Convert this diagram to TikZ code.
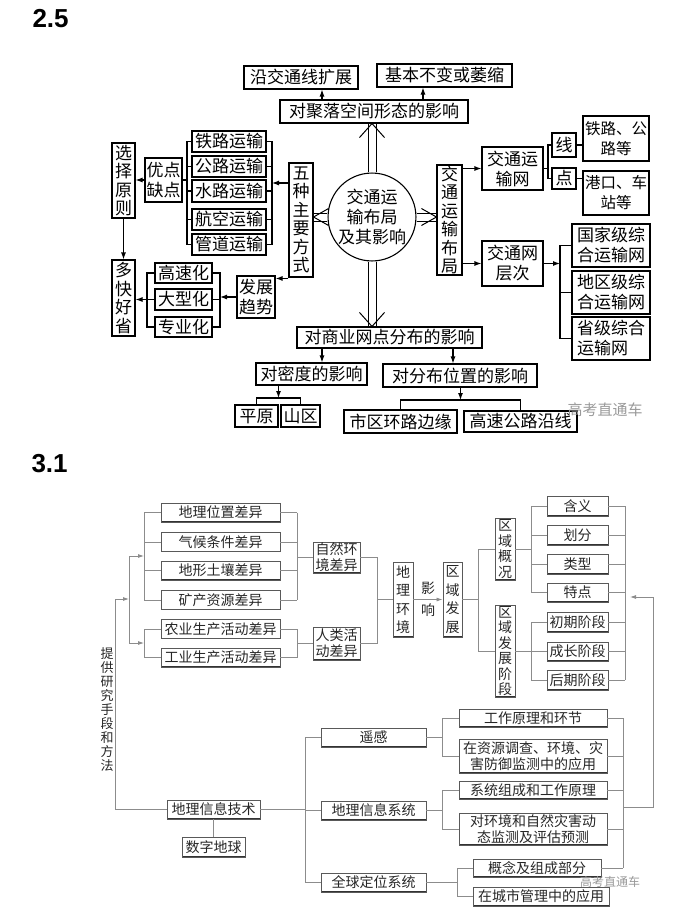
\documentclass[tikz,border=0pt]{standalone}
\usepackage{fontspec}
\setmainfont{Noto Sans CJK SC}
\newfontfamily\numfont{Liberation Sans}
\usetikzlibrary{arrows.meta}

\begin{document}
\begin{tikzpicture}[x=1pt,y=-1pt,
    sz/.style 2 args={minimum width=#1pt, minimum height=#2pt},
    box/.style={draw, line width=1.1pt, inner sep=0pt, align=center, font=\fontsize{17}{20}\selectfont},
    vbox/.style={box, font=\fontsize{17}{18.5}\selectfont},
    ln/.style={line width=1.1pt, line cap=rect},
    arr/.style={line width=1.1pt, -{Latex[length=7pt,width=5pt]}},
    dbl/.style={double, double distance=7pt, line width=1pt},
    chev/.style={line width=1pt},
    gbox/.style={draw=black!65, line width=0.9pt, inner sep=0pt, align=center, text=black!85, font=\fontsize{14}{16}\selectfont,
        path picture={\draw[black!80, line width=2pt] (path picture bounding box.north west) -- (path picture bounding box.south west) -- (path picture bounding box.south east);}},
    gvbox/.style={gbox, font=\fontsize{14}{15.5}\selectfont},
    gln/.style={draw=black!45, line width=0.8pt},
    garr/.style={gln, -{Latex[length=6pt,width=4pt]}},
    wm/.style={text=black!40, font=\fontsize{15}{15}\selectfont}]
    \useasboundingbox (0,0) rectangle (684,919);

    % ---- 2.5 ----
    \node[anchor=base west, font=\numfont\fontsize{26}{26}\selectfont\bfseries] (t25) at (29,27) {2.5};

    \node[box, sz={114}{23}] (yanxian) at (301,77.5) {沿交通线扩展};
    \node[box, sz={135}{23}] (bubian) at (444.5,75.5) {基本不变或萎缩};
    \node[box, sz={188}{23}] (juluo) at (374,111.5) {对聚落空间形态的影响};
    \node[box, circle, minimum size=86pt] (hub) at (372,217) {交通运\\输布局\\及其影响};

    \node[vbox, sz={24}{114}] (wuzhong) at (301,220) {五\\种\\主\\要\\方\\式};
    \node[vbox, sz={25}{110}] (buju) at (449.5,220) {交\\通\\运\\输\\布\\局};

    \node[box, sz={74}{21}] (tielu) at (229,141.5) {铁路运输};
    \node[box, sz={74}{21}] (gonglu) at (229,166.5) {公路运输};
    \node[box, sz={74}{22}] (shuilu) at (229,191) {水路运输};
    \node[box, sz={74}{21}] (hangkong) at (229,219.5) {航空运输};
    \node[box, sz={74}{21}] (guandao) at (229,244.5) {管道运输};
    \node[box, sz={37}{44}] (youdian) at (163.5,180) {优点\\缺点};
    \node[vbox, sz={23}{75}] (xuanze) at (123.5,180.5) {选\\择\\原\\则};
    \node[vbox, sz={23}{76}] (duokuai) at (123.5,298) {多\\快\\好\\省};
    \node[box, sz={57}{20}] (gaosu) at (183.5,273) {高速化};
    \node[box, sz={57}{21}] (daxing) at (183.5,299.5) {大型化};
    \node[box, sz={57}{20}] (zhuanye) at (183.5,327) {专业化};
    \node[box, sz={38}{42}] (fazhan) at (256,297) {发展\\趋势};

    \node[box, sz={61}{43}] (wang) at (512.5,168.5) {交通运\\输网};
    \node[box, sz={24}{24}] (xian) at (564,145) {线};
    \node[box, sz={24}{21}] (dian) at (564,178.5) {点};
    \node[box, sz={66}{45}, font=\fontsize{15.5}{20}\selectfont] (tlgl) at (616,138.5) {铁路、公\\路等};
    \node[box, sz={66}{44}, font=\fontsize{15.5}{20}\selectfont] (gkcz) at (616,193) {港口、车\\站等};
    \node[box, sz={61}{45}] (cengci) at (512.5,263.5) {交通网\\层次};
    \node[box, sz={78}{43}] (guojia) at (611,245.5) {国家级综\\合运输网};
    \node[box, sz={78}{43}] (diqu) at (611,292.5) {地区级综\\合运输网};
    \node[box, sz={78}{43}, align=left] (shengji) at (611,338.5) {省级综合\\运输网};

    \node[box, sz={185}{21}] (shangye) at (389.5,337.5) {对商业网点分布的影响};
    \node[box, sz={111}{22}] (midu) at (311.5,374) {对密度的影响};
    \node[box, sz={154}{23}] (weizhi) at (460,375.5) {对分布位置的影响};
    \node[box, sz={43}{22}] (pingyuan) at (256.5,416) {平原};
    \node[box, sz={39}{22}] (shanqu) at (300.5,416) {山区};
    \node[box, sz={113}{23}] (huanlu) at (400.5,421.5) {市区环路边缘};
    \node[box, sz={113}{21}] (gsgl) at (520.5,421.5) {高速公路沿线};

    % double arrows out of the hub
    \draw[dbl] (hub.north) -- (hub.north |- juluo.south);
    \draw[chev] ([xshift=-12.5pt,yshift=-14pt]hub.north |- juluo.south) -- (hub.north |- juluo.south) -- ([xshift=12.5pt,yshift=-14pt]hub.north |- juluo.south);
    \draw[dbl] (hub.south) -- (hub.south |- shangye.north);
    \draw[chev] ([xshift=-12.5pt,yshift=14pt]hub.south |- shangye.north) -- (hub.south |- shangye.north) -- ([xshift=12.5pt,yshift=14pt]hub.south |- shangye.north);
    \draw[dbl] (hub.west) -- (hub.west -| wuzhong.east);
    \draw[chev] ([xshift=15pt,yshift=-8.5pt]hub.west -| wuzhong.east) -- (hub.west -| wuzhong.east) -- ([xshift=15pt,yshift=8.5pt]hub.west -| wuzhong.east);
    \draw[dbl] (hub.east) -- (hub.east -| buju.west);
    \draw[chev] ([xshift=-15pt,yshift=-8.5pt]hub.east -| buju.west) -- (hub.east -| buju.west) -- ([xshift=-15pt,yshift=8.5pt]hub.east -| buju.west);

    \draw[arr] ([xshift=-52pt]juluo.north) -- ([xshift=-52pt]juluo.north |- yanxian.south);
    \draw[arr] ([xshift=49pt]juluo.north) -- ([xshift=49pt]juluo.north |- bubian.south);

    % five modes
    \coordinate (trbr) at (272,183);
    \coordinate (tlbr) at (187,183);
    \foreach \b in {tielu,gonglu,shuilu,hangkong,guandao} {
        \draw[ln] (\b.east) -- (\b.east -| trbr);
        \draw[ln] (\b.west) -- (\b.west -| tlbr);
    }
    \draw[ln] (tielu.east -| trbr) -- (guandao.east -| trbr);
    \draw[ln] (tielu.west -| tlbr) -- (guandao.west -| tlbr);
    \draw[arr] (trbr -| wuzhong.west) -- (trbr);
    \draw[ln] (youdian.east) -- (youdian.east -| tlbr);
    \draw[arr] (youdian.west) -- (youdian.west -| xuanze.east);
    \draw[arr] (xuanze.south) -- (duokuai.north);

    % trends
    \draw[arr] ([yshift=-3pt]fazhan.north east -| wuzhong.west) -- ([yshift=-3pt]fazhan.north east);
    \coordinate (fbr) at (220,297);
    \coordinate (dbr) at (147,299.5);
    \foreach \b in {gaosu,daxing,zhuanye} {
        \draw[ln] (\b.east) -- (\b.east -| fbr);
        \draw[ln] (\b.west) -- (\b.west -| dbr);
    }
    \draw[ln] (gaosu.east -| fbr) -- (zhuanye.east -| fbr);
    \draw[ln] (gaosu.west -| dbr) -- (zhuanye.west -| dbr);
    \draw[arr] (fazhan.west) -- (fazhan.west -| fbr);
    \draw[arr] (dbr) -- (dbr -| duokuai.east);

    % layout side
    \draw[arr] (wang.west -| buju.east) -- (wang.west);
    \draw[arr] (cengci.west -| buju.east) -- (cengci.west);
    \coordinate (wbr) at (548,0);
    \draw[ln] (wang.east) -- (wang.east -| wbr);
    \draw[ln] (xian.west) -| (dian.west -| wbr) -- (dian.west);
    \draw[ln] (xian.east) -- (xian.east -| tlgl.west);
    \draw[ln] (dian.east) -- (dian.east -| gkcz.west);
    \coordinate (cbr) at (560,0);
    \draw[arr] (cengci.east) -- (cengci.east -| cbr);
    \draw[ln] (guojia.west) -| (shengji.west -| cbr) -- (shengji.west);
    \draw[ln] (diqu.west) -- (diqu.west -| cbr);

    % commerce
    \draw[arr] ([xshift=10.5pt]midu.north |- shangye.south) -- ([xshift=10.5pt]midu.north);
    \draw[arr] ([xshift=-7pt]weizhi.north |- shangye.south) -- ([xshift=-7pt]weizhi.north);
    \coordinate (mbr) at (278.5,398);
    \draw[arr] (mbr |- midu.south) -- (mbr);
    \draw[ln] (pingyuan.north) |- (mbr) -| (shanqu.north);
    \coordinate (pbr) at (460.5,400);
    \draw[arr] (pbr |- weizhi.south) -- (pbr);
    \draw[ln] (huanlu.north) |- (pbr) -| (gsgl.north);

    \node[wm] (wm1) at (605,410) {高考直通车};

    % ---- 3.1 ----
    \node[anchor=base west, font=\numfont\fontsize{26}{26}\selectfont\bfseries] (t31) at (28,472) {3.1};

    \node[gbox, sz={119}{19}] (dlwz) at (220.5,512.5) {地理位置差异};
    \node[gbox, sz={119}{19}] (qhtj) at (220.5,542) {气候条件差异};
    \node[gbox, sz={119}{19}] (dxtr) at (220.5,570.5) {地形土壤差异};
    \node[gbox, sz={119}{19}] (kczy) at (220.5,600) {矿产资源差异};
    \node[gbox, sz={119}{19}] (nysc) at (220.5,629) {农业生产活动差异};
    \node[gbox, sz={119}{19}] (gysc) at (220.5,657.5) {工业生产活动差异};
    \node[gbox, sz={47}{31}] (zrhj) at (336.5,557.5) {自然环\\境差异};
    \node[gbox, sz={47}{33}] (rlhd) at (336.5,643.5) {人类活\\动差异};
    \node[gvbox, sz={20}{75}, font=\fontsize{14}{18.5}\selectfont] (dlhj) at (403,599.5) {地\\理\\环\\境};
    \node[gvbox, sz={19}{75}, font=\fontsize{14}{18.5}\selectfont] (qyfz) at (452.5,599.5) {区\\域\\发\\展};
    \node[align=center, inner sep=0pt, text=black!85, font=\fontsize{14}{22}\selectfont] (yingxiang) at (428,599) {影\\响};
    \node[gvbox, sz={20}{62}] (qygk) at (505,549) {区\\域\\概\\况};
    \node[gvbox, sz={20}{92}] (qyjd) at (505,651) {区\\域\\发\\展\\阶\\段};
    \node[gbox, sz={61}{20}] (hanyi) at (577.5,506) {含义};
    \node[gbox, sz={61}{20}] (huafen) at (577.5,535) {划分};
    \node[gbox, sz={61}{20}] (leixing) at (577.5,564) {类型};
    \node[gbox, sz={61}{19}] (tedian) at (577.5,592.5) {特点};
    \node[gbox, sz={61}{20}] (chuqi) at (577.5,622) {初期阶段};
    \node[gbox, sz={61}{19}] (chengzhang) at (577.5,651.5) {成长阶段};
    \node[gbox, sz={61}{20}] (houqi) at (577.5,680) {后期阶段};

    \node[align=center, inner sep=0pt, text=black!85, font=\fontsize{13}{14}\selectfont] (tgtext) at (107,709.5) {提\\供\\研\\究\\手\\段\\和\\方\\法};
    \node[gbox, sz={93}{19}] (dlxx) at (213.5,809.5) {地理信息技术};
    \node[gbox, sz={63}{20}] (szdq) at (213.5,847) {数字地球};
    \node[gbox, sz={105}{19}] (yaogan) at (373.5,737.5) {遥感};
    \node[gbox, sz={105}{19}] (gis) at (373.5,810.5) {地理信息系统};
    \node[gbox, sz={105}{19}] (gps) at (373.5,882.5) {全球定位系统};
    \node[gbox, sz={148}{18}] (gzyl) at (533,718) {工作原理和环节};
    \node[gbox, sz={148}{34}] (zydc) at (533,756) {在资源调查、环境、灾\\害防御监测中的应用};
    \node[gbox, sz={148}{18}] (xtzc) at (533,790) {系统组成和工作原理};
    \node[gbox, sz={148}{32}] (dhj) at (533,829) {对环境和自然灾害动\\态监测及评估预测};
    \node[gbox, sz={128}{18}] (gnzc) at (537,868) {概念及组成部分};
    \node[gbox, sz={136}{19}] (csgl) at (541,896.5) {在城市管理中的应用};

    % differences
    \coordinate (zlbr) at (144,556);
    \coordinate (hlbr) at (144,643);
    \coordinate (olbr) at (129,599);
    \coordinate (tigong) at (115,599);
    \coordinate (zrbr) at (297,557.5);
    \coordinate (hrbr) at (297,643.5);
    \foreach \b in {dlwz,qhtj,dxtr,kczy} {
        \draw[gln] (\b.west) -- (\b.west -| zlbr);
        \draw[gln] (\b.east) -- (\b.east -| zrbr);
    }
    \foreach \b in {nysc,gysc} {
        \draw[gln] (\b.west) -- (\b.west -| hlbr);
        \draw[gln] (\b.east) -- (\b.east -| hrbr);
    }
    \draw[gln] (dlwz.west -| zlbr) -- (kczy.west -| zlbr);
    \draw[gln] (dlwz.east -| zrbr) -- (kczy.east -| zrbr);
    \draw[gln] (nysc.west -| hlbr) -- (gysc.west -| hlbr);
    \draw[gln] (nysc.east -| hrbr) -- (gysc.east -| hrbr);
    \draw[garr] (zlbr -| olbr) -- (zlbr);
    \draw[garr] (hlbr -| olbr) -- (hlbr);
    \draw[gln] (zlbr -| olbr) -- (hlbr -| olbr);
    \draw[garr] (tigong) -- (olbr);
    \draw[gln] (tigong) |- (dlxx.west);
    \draw[gln] (zrbr) -- (zrhj.west);
    \draw[gln] (hrbr) -- (rlhd.west);
    \coordinate (xbr) at (377,599.5);
    \draw[gln] (zrhj.east) -| (rlhd.east -| xbr) -- (rlhd.east);
    \draw[gln] (xbr) -- (dlhj.west);
    \draw[garr] (dlhj.east) -- (qyfz.west);

    % region
    \coordinate (qbr) at (478,0);
    \draw[gln] (qyfz.east) -- (qyfz.east -| qbr);
    \draw[gln] (qygk.west) -| (qyjd.west -| qbr) -- (qyjd.west);
    \coordinate (kbr) at (531,0);
    \draw[gln] (qygk.east) -- (qygk.east -| kbr);
    \draw[gln] (hanyi.west) -| (tedian.west -| kbr) -- (tedian.west);
    \draw[gln] (huafen.west) -- (huafen.west -| kbr);
    \draw[gln] (leixing.west) -- (leixing.west -| kbr);
    \draw[gln] (qyjd.east) -- (qyjd.east -| kbr);
    \draw[gln] (chuqi.west) -| (houqi.west -| kbr) -- (houqi.west);
    \draw[gln] (chengzhang.west) -- (chengzhang.west -| kbr);
    \coordinate (tbr) at (625,597);
    \foreach \b in {hanyi,huafen,leixing,tedian,chuqi,chengzhang,houqi}
        \draw[gln] (\b.east) -- (\b.east -| tbr);
    \draw[gln] (hanyi.east -| tbr) -- (houqi.east -| tbr);

    % geo information technology
    \draw[gln] (dlxx.south) -- (szdq.north);
    \coordinate (jbr) at (305,0);
    \draw[gln] (dlxx.east) -- (dlxx.east -| jbr);
    \draw[gln] (yaogan.west) -| (gps.west -| jbr) -- (gps.west);
    \draw[gln] (gis.west) -- (gis.west -| jbr);
    \coordinate (ybr) at (442,0);
    \draw[gln] (yaogan.east) -- (yaogan.east -| ybr);
    \draw[gln] (gzyl.west) -| (zydc.west -| ybr) -- (zydc.west);
    \draw[gln] (gis.east) -- (gis.east -| ybr);
    \draw[gln] (xtzc.west) -| (dhj.west -| ybr) -- (dhj.west);
    \coordinate (gbr) at (457,0);
    \draw[gln] (gps.east) -- (gps.east -| gbr);
    \draw[gln] (gnzc.west) -| (csgl.west -| gbr) -- (csgl.west);
    \coordinate (bbr) at (623,807);
    \foreach \b in {gzyl,zydc,xtzc,dhj,gnzc}
        \draw[gln] (\b.east) -- (\b.east -| bbr);
    \draw[gln] (gzyl.east -| bbr) -- (gnzc.east -| bbr);
    \coordinate (fanhui) at (653,597);
    \draw[garr] (bbr) -| (fanhui) -- ([xshift=5pt]tbr);

    \node[wm, font=\fontsize{12}{12}\selectfont] (wm2) at (610,882) {高考直通车};
\end{tikzpicture}
\end{document}
